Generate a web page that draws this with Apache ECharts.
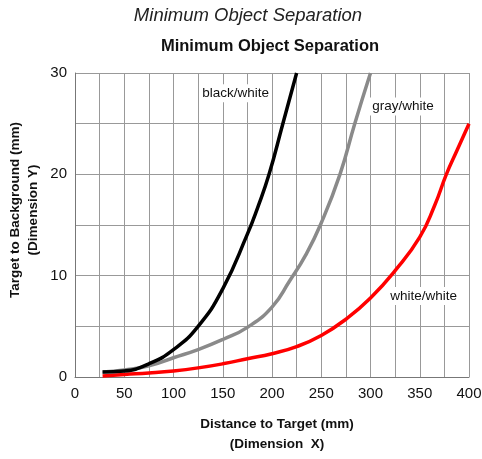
<!DOCTYPE html>
<html>
<head>
<meta charset="utf-8">
<script src="https://cdn.jsdelivr.net/npm/echarts@6/dist/echarts.min.js"></script>
<style>
html,body{margin:0;padding:0;background:#fff;}
#c{width:482px;height:459px;}
</style>
</head>
<body>
<div id="c"></div>
<script>
// Data
const blackX = [28, 50, 75, 100, 125, 150, 175, 185, 197, 211, 225];
const blackY = [0.5, 0.6, 1.3, 2.7, 5.0, 8.7, 14.1, 16.6, 20, 25, 30];
const grayX = [28, 50, 75, 100, 125, 150, 175, 200, 218, 234, 250, 269, 284, 300];
const grayY = [0.5, 0.7, 1.1, 1.9, 2.7, 3.7, 4.9, 6.9, 9.5, 12.0, 15.2, 20, 25, 30];
const redX = [28, 50, 75, 100, 125, 150, 175, 200, 225, 250, 275, 300, 325, 350, 365, 377, 388, 400];
const redY = [0.1, 0.25, 0.4, 0.6, 0.9, 1.3, 1.8, 2.3, 3.0, 4.1, 5.7, 7.8, 10.5, 13.8, 16.9, 20, 22.4, 25];
const seriesNames = ['white/white', 'gray/white', 'black/white'];
const labelPos = { 'black/white': [163, 28], 'gray/white': [333, 26.7], 'white/white': [354, 8] };
const xTickLabels = [0, 50, 100, 150, 200, 250, 300, 350, 400];
const yTickLabels = [0, 10, 20, 30];
const yAxisTitle = 'Target to Background (mm)\n(Dimension Y)';

const SANS = '"Liberation Sans", Arial, sans-serif';

function pairs(xs, ys) { return xs.map((x, i) => [x, ys[i]]); }

const chart = echarts.init(document.getElementById('c'), null, { renderer: 'canvas' });

function mk(name, xs, ys, color) {
  return {
    name: name,
    type: 'line',
    data: pairs(xs, ys),
    smooth: 0.5,
    showSymbol: false,
    symbol: 'none',
    lineStyle: { color: color, width: 3.5 },
    z: 3,
    markPoint: {
      symbol: 'rect',
      symbolSize: 1,
      itemStyle: { color: 'rgba(0,0,0,0)' },
      silent: true,
      data: [{ name: name, coord: labelPos[name] }],
      label: {
        show: true,
        position: 'inside',
        formatter: name,
        color: '#111',
        fontFamily: SANS,
        fontSize: 13.5,
        backgroundColor: '#fff',
        padding: [2, 3]
      }
    }
  };
}

chart.setOption({
  animation: false,
  backgroundColor: '#fff',
  title: [
    {
      text: 'Minimum Object Separation',
      left: 243, top: 1, textAlign: 'center',
      textStyle: { fontFamily: SANS, fontStyle: 'italic', fontWeight: 'normal', fontSize: 18.5, color: '#222' }
    },
    {
      text: 'Minimum Object Separation',
      left: 265, top: 33, textAlign: 'center',
      textStyle: { fontFamily: SANS, fontWeight: 'bold', fontSize: 16.5, color: '#111' }
    }
  ],
  graphic: [{
    type: 'text',
    x: 24, y: 210,
    rotation: Math.PI / 2,
    style: {
      text: yAxisTitle,
      fill: '#111',
      font: 'bold 13.5px ' + SANS,
      lineHeight: 18,
      align: 'center',
      verticalAlign: 'middle'
    }
  }],
  grid: { left: 75, right: 13, top: 73, bottom: 82, containLabel: false, outerBoundsMode: 'none' },
  xAxis: {
    type: 'value', min: 0, max: 400, interval: 25,
    name: 'Distance to Target (mm)\n(Dimension  X)',
    nameLocation: 'middle', nameGap: 37,
    nameTextStyle: { fontFamily: SANS, fontWeight: 'bold', fontSize: 13.5, color: '#111', lineHeight: 20, padding: [0, 0, 0, 10] },
    axisLine: { show: true, lineStyle: { color: '#777', width: 1 } },
    axisTick: { show: false },
    splitLine: { show: true, lineStyle: { color: '#999', width: 1 } },
    axisLabel: {
      color: '#111', fontFamily: SANS, fontSize: 15, margin: 9,
      formatter: v => (xTickLabels.indexOf(v) >= 0 ? String(v) : '')
    }
  },
  yAxis: {
    type: 'value', min: 0, max: 30, interval: 5,
    axisLine: { show: true, lineStyle: { color: '#777', width: 1 } },
    axisTick: { show: false },
    splitLine: { show: true, lineStyle: { color: '#999', width: 1 } },
    axisLabel: {
      color: '#111', fontFamily: SANS, fontSize: 15, margin: 8,
      formatter: v => (yTickLabels.indexOf(v) >= 0 ? String(v) : '')
    }
  },
  series: [
    mk(seriesNames[0], redX, redY, '#ff0000'),
    mk(seriesNames[1], grayX, grayY, '#8a8a8a'),
    mk(seriesNames[2], blackX, blackY, '#000000')
  ]
});
</script>
</body>
</html>
